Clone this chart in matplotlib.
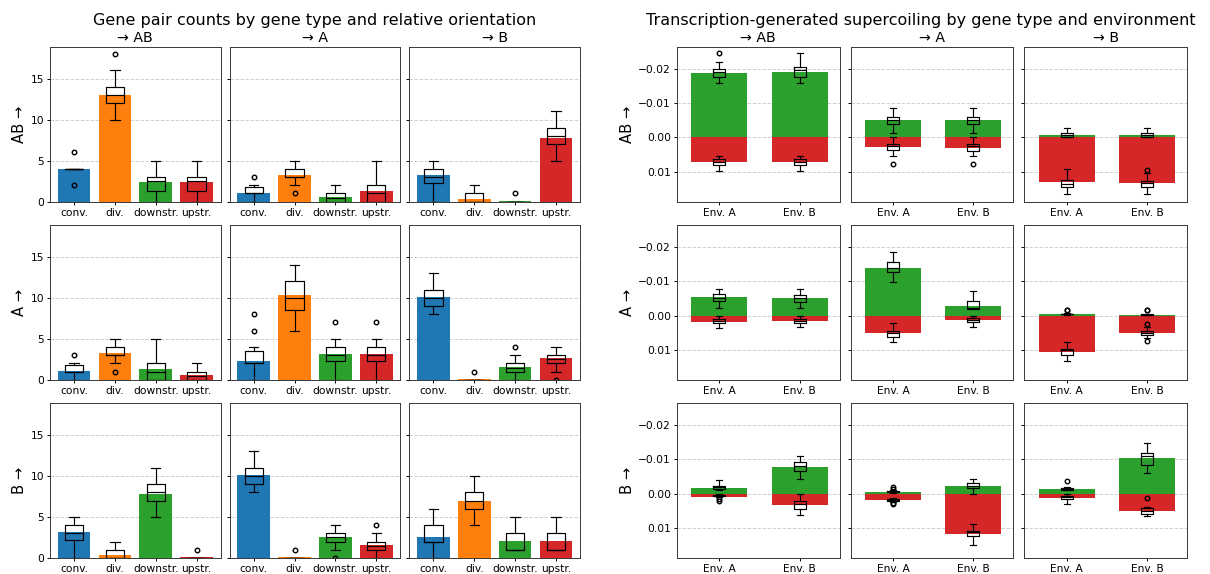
import matplotlib
matplotlib.use("Agg")
import matplotlib.pyplot as plt
import numpy as np

# ---------------- data ----------------
row_names = ["AB", "A", "B"]
col_names = ["AB", "A", "B"]
gene_types = ["conv.", "div.", "downstr.", "upstr."]
gene_colors = ["#1f77b4", "#ff7f0e", "#2ca02c", "#d62728"]
envs = ["Env. A", "Env. B"]

# Left block: bar heights (mean counts), per row -> per column -> per gene type
count_bars_AB = [[4.0, 13.0, 2.45, 2.45], [1.1, 3.3, 0.6, 1.35], [3.3, 0.35, 0.05, 7.8]]
count_bars_A = [[1.1, 3.3, 1.35, 0.65], [2.35, 10.35, 3.2, 3.2], [10.1, 0.05, 1.6, 2.6]]
count_bars_B = [[3.2, 0.4, 7.8, 0.1], [10.1, 0.1, 2.6, 1.6], [2.6, 7.0, 2.1, 2.1]]

# box stats (whislo, q1, med, q3, whishi)
count_box_AB = [
    [(4, 4, 4, 4, 4), (10, 12, 13, 14, 16), (0, 1.25, 2.5, 3, 5), (0, 1.25, 2.5, 3, 5)],
    [(0, 1, 1, 1.75, 2), (2, 3, 3, 4, 5), (0, 0, 0.5, 1, 2), (0, 0, 1, 2, 5)],
    [(0, 2.25, 3, 4, 5), (0, 0, 0, 1, 2), (0, 0, 0, 0, 0), (5, 7, 8, 9, 11)],
]
count_box_A = [
    [(0, 1, 1, 1.75, 2), (2, 3, 3, 4, 5), (0, 0, 1, 2, 5), (0, 0, 0.5, 1, 2)],
    [(0, 2, 2, 3.5, 4), (6, 8.5, 10, 12, 14), (0, 2.25, 3, 4, 5), (0, 2.25, 3, 4, 5)],
    [(8, 9, 10, 11, 13), (0, 0, 0, 0, 0), (0, 1, 1.5, 2, 3), (1, 2, 2.5, 3, 4)],
]
count_box_B = [
    [(0, 2.25, 3, 4, 5), (0, 0, 0, 1, 2), (5, 7, 8, 9, 11), (0, 0, 0, 0, 0)],
    [(8, 9, 10, 11, 13), (0, 0, 0, 0, 0), (1, 2, 2.5, 3, 4), (0, 1, 1.5, 2, 3)],
    [(0, 2, 2, 4, 6), (4, 6, 7, 8, 10), (1, 1, 1, 3, 5), (1, 1, 1, 3, 5)],
]
count_fliers_AB = [[[2, 6], [18], [], []], [[3], [1], [], []], [[], [], [1], []]]
count_fliers_A = [[[3], [1], [], []], [[6, 8], [], [7], [7]], [[], [1], [4], [0]]]
count_fliers_B = [[[], [], [], [1]], [[], [1], [0], [4]], [[], [], [], []]]

# Right block: supercoiling; green = negative part, red = positive part (per column: [Env A, Env B])
sc_green_AB = [[-0.0189, -0.0192], [-0.0050, -0.0050], [-0.0006, -0.0006]]
sc_red_AB = [[0.0072, 0.0072], [0.0028, 0.0031], [0.0131, 0.0134]]
sc_green_A = [[-0.0053, -0.0050], [-0.0140, -0.0029], [-0.0006, -0.0003]]
sc_red_A = [[0.0018, 0.0017], [0.0051, 0.0013], [0.0106, 0.0052]]
sc_green_B = [[-0.0018, -0.0078], [-0.0006, -0.0024], [-0.0015, -0.0105]]
sc_red_B = [[0.0008, 0.0034], [0.0019, 0.0117], [0.0011, 0.0049]]

sc_gbox_AB = [
    [(-0.022, -0.0200, -0.0190, -0.0175, -0.0158), (-0.0245, -0.0205, -0.0198, -0.0177, -0.0160)],
    [(-0.0085, -0.0060, -0.0050, -0.0040, -0.0013), (-0.0086, -0.0060, -0.0051, -0.0040, -0.0013)],
    [(-0.0027, -0.0012, -0.0008, -0.0002, 0.0), (-0.0027, -0.0013, -0.0008, -0.0002, 0.0)],
]
sc_rbox_AB = [
    [(0.0053, 0.0063, 0.0072, 0.0080, 0.0099), (0.0053, 0.0064, 0.0071, 0.0081, 0.0099)],
    [(0.0, 0.0018, 0.0025, 0.0037, 0.0055), (0.0, 0.0018, 0.0026, 0.0038, 0.0055)],
    [(0.0092, 0.0125, 0.0135, 0.0145, 0.0165), (0.0102, 0.0128, 0.0133, 0.0145, 0.0165)],
]
sc_gbox_A = [
    [(-0.0077, -0.0063, -0.0052, -0.0043, -0.0023), (-0.0077, -0.0060, -0.0050, -0.0041, -0.0023)],
    [(-0.0185, -0.0157, -0.0138, -0.0127, -0.0098), (-0.0072, -0.0043, -0.0022, -0.0020, -0.0018)],
    [(-0.0007, -0.0006, -0.0005, -0.0004, -0.0003), (-0.0005, -0.0004, -0.0003, -0.0002, -0.0001)],
]
sc_rbox_A = [
    [(0.0, 0.0010, 0.0015, 0.0022, 0.0036), (0.0, 0.0010, 0.0015, 0.0022, 0.0034)],
    [(0.0022, 0.0045, 0.0050, 0.0063, 0.0076), (0.0002, 0.0007, 0.0013, 0.0018, 0.0032)],
    [(0.0078, 0.0097, 0.0100, 0.0114, 0.0133), (0.0033, 0.0046, 0.0050, 0.0056, 0.0065)],
]
sc_gbox_B = [
    [(-0.0040, -0.0024, -0.0019, -0.0015, -0.0010), (-0.0110, -0.0093, -0.0080, -0.0066, -0.0044)],
    [(-0.0010, -0.0008, -0.0006, -0.0004, -0.0003), (-0.0044, -0.0031, -0.0022, -0.0018, 0.0)],
    [(-0.0019, -0.0017, -0.0015, -0.0012, -0.0010), (-0.0148, -0.0120, -0.0110, -0.0085, -0.0060)],
]
sc_rbox_B = [
    [(0.0002, 0.0003, 0.0005, 0.0007, 0.0009), (0.0, 0.0022, 0.0030, 0.0045, 0.0062)],
    [(0.0012, 0.0015, 0.0018, 0.0021, 0.0024), (0.0088, 0.0107, 0.0112, 0.0123, 0.0148)],
    [(0.0, 0.0005, 0.0010, 0.0015, 0.0030), (0.0038, 0.0042, 0.0050, 0.0058, 0.0065)],
]
sc_gfliers_AB = [[[-0.0245], []], [[], []], [[], []]]
sc_rfliers_AB = [[[], []], [[0.0077], [0.0077]], [[], [0.0095]]]
sc_gfliers_A = [[[], []], [[], []], [[-0.0017, -0.0015], [-0.0017, -0.0015]]]
sc_rfliers_A = [[[], []], [[], []], [[], [0.0023, 0.0073]]]
sc_gfliers_B = [[[], []], [[-0.0015, -0.0020], []], [[-0.0038], []]]
sc_rfliers_B = [[[0.0015, 0.0020], []], [[0.0028, 0.0031], []], [[], [0.0012]]]

count_bars = [count_bars_AB, count_bars_A, count_bars_B]
count_box = [count_box_AB, count_box_A, count_box_B]
count_fliers = [count_fliers_AB, count_fliers_A, count_fliers_B]
sc_green = [sc_green_AB, sc_green_A, sc_green_B]
sc_red = [sc_red_AB, sc_red_A, sc_red_B]
sc_gbox = [sc_gbox_AB, sc_gbox_A, sc_gbox_B]
sc_rbox = [sc_rbox_AB, sc_rbox_A, sc_rbox_B]
sc_gfl = [sc_gfliers_AB, sc_gfliers_A, sc_gfliers_B]
sc_rfl = [sc_rfliers_AB, sc_rfliers_A, sc_rfliers_B]


def make_stats(boxes, fliers):
    out = []
    for (lo, q1, med, q3, hi), fl in zip(boxes, fliers):
        out.append(dict(whislo=lo, q1=q1, med=med, q3=q3, whishi=hi, fliers=list(fl)))
    return out


line_kw = dict(color="black", linewidth=1.0)
box_kw = dict(
    boxprops=line_kw, whiskerprops=line_kw, capprops=line_kw, medianprops=line_kw,
    flierprops=dict(marker="o", markersize=3.8, markerfacecolor="none",
                    markeredgecolor="black", markeredgewidth=1.2),
    manage_ticks=False,
)

# ---------------- figure ----------------
W, H = 1210, 574
DPI = 85
plt.rcParams.update({
    "xtick.labelsize": 9, "ytick.labelsize": 9,
    "xtick.major.size": 2.5, "ytick.major.size": 2.5,
    "xtick.major.pad": 2.5, "ytick.major.pad": 2.5,
    "axes.edgecolor": "#333333",
})
fig = plt.figure(figsize=(W / DPI, H / DPI), dpi=DPI)

gs_left = fig.add_gridspec(3, 3, left=50 / W, right=580 / W, top=1 - 46.5 / H, bottom=1 - 558 / H,
                           wspace=0.053, hspace=0.148)
gs_right = fig.add_gridspec(3, 3, left=677 / W, right=1187 / W, top=1 - 46.5 / H, bottom=1 - 558 / H,
                            wspace=0.068, hspace=0.148)

x4 = np.arange(len(gene_types))
x2 = np.arange(len(envs))

grid_kw = dict(linestyle="--", color="#bbbbbb", linewidth=0.8, alpha=0.7)

left_axes = []
for r in range(3):
    for c in range(3):
        ax = fig.add_subplot(gs_left[r, c], sharey=left_axes[0] if left_axes else None)
        left_axes.append(ax)
        ax.bar(x4, count_bars[r][c], width=0.8, color=gene_colors, zorder=1)
        ax.bxp(make_stats(count_box[r][c], count_fliers[r][c]), positions=x4, **box_kw)
        ax.set_xticks(x4)
        ax.set_xticklabels(gene_types)
        ax.set_xlim(-0.59, 3.59)
        ax.set_ylim(0, 18.9)
        ax.set_yticks([0, 5, 10, 15])
        ax.yaxis.grid(True, **grid_kw)
        ax.set_axisbelow(True)
        if c == 0:
            ax.set_ylabel(f"{row_names[r]} \u2192", fontsize=12.5, labelpad=3)
        else:
            ax.tick_params(labelleft=False)
        if r == 0:
            ax.set_title(f"\u2192 {col_names[c]}", fontsize=12, pad=3.7)

right_axes = []
for r in range(3):
    for c in range(3):
        ax = fig.add_subplot(gs_right[r, c], sharey=right_axes[0] if right_axes else None)
        right_axes.append(ax)
        ax.bar(x2, sc_green[r][c], width=0.7, color="#2ca02c", zorder=1)
        ax.bar(x2, sc_red[r][c], width=0.7, color="#d62728", zorder=1)
        ax.bxp(make_stats(sc_gbox[r][c], sc_gfl[r][c]), positions=x2, **box_kw)
        ax.bxp(make_stats(sc_rbox[r][c], sc_rfl[r][c]), positions=x2, **box_kw)
        ax.set_xticks(x2)
        ax.set_xticklabels(envs)
        ax.set_xlim(-0.53, 1.5)
        ax.set_yticks([-0.02, -0.01, 0.0, 0.01])
        ax.set_ylim(0.0187, -0.0265)
        ax.yaxis.grid(True, **grid_kw)
        ax.set_axisbelow(True)
        if c == 0:
            ax.set_ylabel(f"{row_names[r]} \u2192", fontsize=12.5, labelpad=3)
        else:
            ax.tick_params(labelleft=False)
        if r == 0:
            ax.set_title(f"\u2192 {col_names[c]}", fontsize=12, pad=3.7)

fig.text(315 / W, 1 - 25 / H, "Gene pair counts by gene type and relative orientation",
         ha="center", va="baseline", fontsize=13.6)
fig.text(921 / W, 1 - 25 / H, "Transcription-generated supercoiling by gene type and environment",
         ha="center", va="baseline", fontsize=13.6)

fig.savefig("out.png", dpi=DPI)
